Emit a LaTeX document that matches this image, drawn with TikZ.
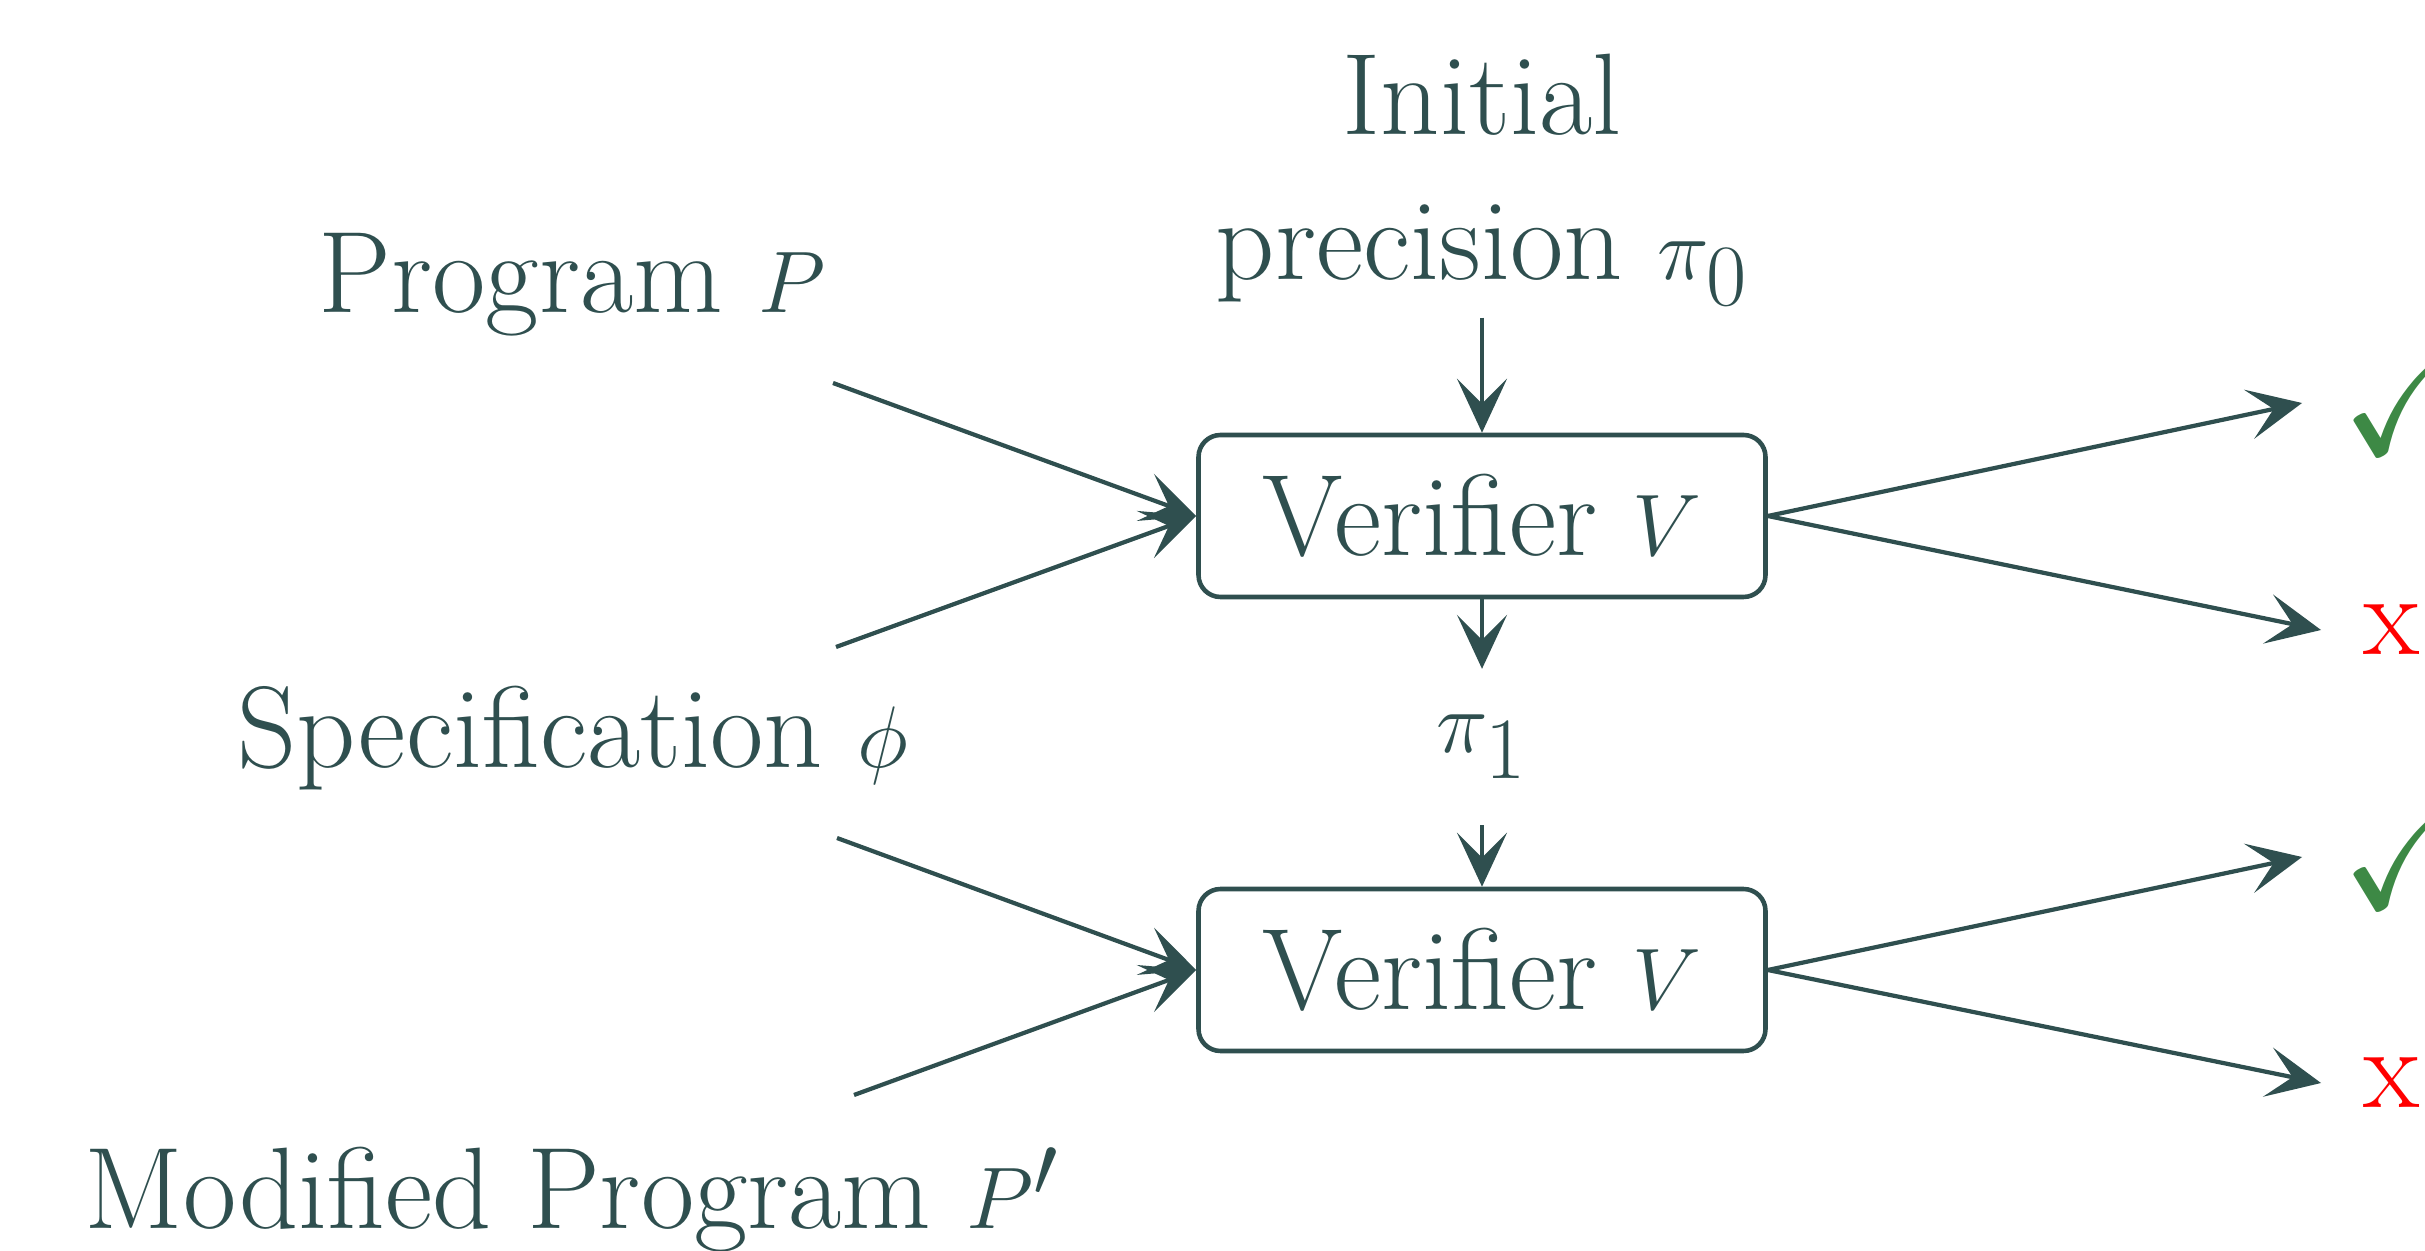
\documentclass[tikz,border=0pt]{standalone}
\usepackage{amsmath,amssymb}
\usepackage{tikz}
\usetikzlibrary{arrows.meta,positioning}
\definecolor{slate}{HTML}{2F4F4F}
\definecolor{okgreen}{RGB}{61,137,69}
\tikzset{
  % Verifier box: rounded, label inside
  vbox/.style={draw, rectangle, rounded corners=2.2mm, minimum width=5.67cm,
               minimum height=1.62cm, line width=1.3pt},
  % Plain text labels
  lbl/.style={align=center},
  % Verdict marks
  okmark/.style={text=okgreen, anchor=west, inner xsep=3.9mm, font=\fontsize{42}{48}\selectfont},
  nomark/.style={text=red, anchor=west, inner xsep=4.2mm},
  % Arrows
  flowarr/.style={-{Stealth[length=5.4mm, width=5mm, inset=2.5mm]}, line width=1.2pt}
}
\begin{document}
\begin{tikzpicture}[color=slate, font=\fontsize{33}{41}\selectfont]
\useasboundingbox (0,0) rectangle (24.25,-12.51);

% ============== VERIFIERS ==============
\node[vbox] (v1) at (14.82,-5.16) {Verifier $V$};
\node[vbox] (v2) at (14.82,-9.70) {Verifier $V$};

\node[lbl, above=11.5mm of v1] (init) {Initial\\precision $\pi_0$};
\node[lbl, inner ysep=4.55mm] (pi1) at (14.82,-7.47) {$\pi_1$};

\draw[flowarr] (init.south) -- (v1.north);
\draw[flowarr] (v1.south) -- (pi1.north);
\draw[flowarr] (pi1.south) -- (v2.north);

% ============== INPUTS ==============
\node[lbl, anchor=base] (prog) at (5.72,-3.13) {Program $P$};
\node[lbl, anchor=base] (spec) at (5.73,-7.68) {Specification $\phi$};
\node[lbl, anchor=base] (mod) at (5.72,-12.28) {Modified Program $P'$};

\coordinate (p1) at (8.33,-3.83);
\coordinate (s1) at (8.36,-6.47);
\coordinate (s2) at (8.37,-8.38);
\coordinate (m1) at (8.54,-10.95);

\draw[flowarr] (p1) -- (v1.west);
\draw[flowarr] (s1) -- (v1.west);
\draw[flowarr] (s2) -- (v2.west);
\draw[flowarr] (m1) -- (v2.west);

% ============== VERDICTS ==============
\node[okmark] (ok1) at (23.02,-4.03) {$\checkmark$};
\node[nomark] (no1) at (23.21,-6.30) {x};
\node[okmark] (ok2) at (23.02,-8.57) {$\checkmark$};
\node[nomark] (no2) at (23.21,-10.83) {x};

\draw[flowarr] (v1.east) -- (ok1.west);
\draw[flowarr] (v1.east) -- (no1.west);
\draw[flowarr] (v2.east) -- (ok2.west);
\draw[flowarr] (v2.east) -- (no2.west);

\end{tikzpicture}
\end{document}
